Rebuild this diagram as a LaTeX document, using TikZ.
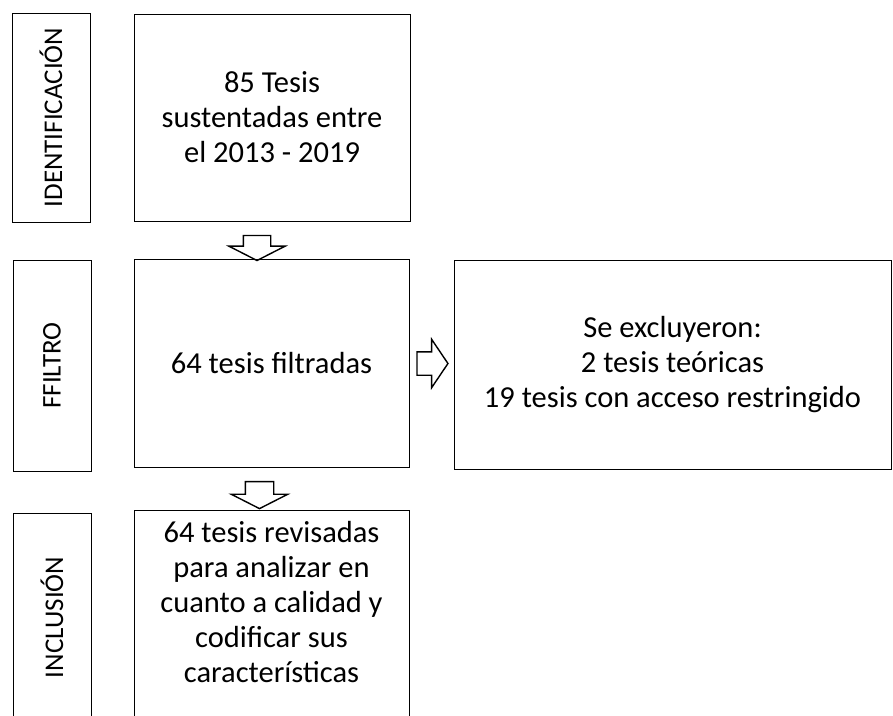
\documentclass[tikz,border=0pt]{standalone}
\usepackage{fontspec}
\setmainfont{Carlito}
\usetikzlibrary{shapes.arrows}

\begin{document}
\begin{tikzpicture}[
    x=1pt, y=1pt, % 1 px = 1 pt
    font=\fontsize{30.5}{35}\selectfont,
    etiqueta/.style={draw, line width=1pt, rotate=90, inner sep=0pt,
        minimum height=78pt, font=\fontsize{27}{33}\selectfont},
    caja/.style={draw, line width=1pt, align=center, inner sep=0pt},
    flecha/.style={draw, single arrow, line width=1.4pt, inner sep=0pt,
        single arrow head indent=0pt}
    ]
    % --- area de dibujo ---
    \useasboundingbox (0,0) rectangle (893,-715);
    \clip (0,0) rectangle (893,-715);

    % 1. etiquetas de las fases
    \node[etiqueta, minimum width=209pt] (ident) at (51,-117.5) {IDENTIFICACIÓN};
    \node[etiqueta, minimum width=211pt] (ffil) at (52,-365.5) {FFILTRO};
    \node[etiqueta, minimum width=209pt] (inclu) at (52,-617.5) {INCLUSIÓN};

    % 2. cajas principales
    \node[caja, minimum width=276pt, minimum height=207pt] (tesis) at (272,-117.5)
        {85 Tesis\\sustentadas entre\\el 2013 - 2019};
    \node[caja, minimum width=275pt, minimum height=208pt] (filtradas) at (271.5,-363)
        {64 tesis filtradas};
    \node[caja, minimum width=437pt, minimum height=209pt] (excluidas) at (672.5,-364.5)
        {Se excluyeron:\\2 tesis teóricas\\19 tesis con acceso restringido};
    \node[caja, minimum width=275pt, minimum height=208pt] (revisadas) at (271.5,-614) {};
    \node[align=center, inner sep=0pt] (revtexto) at (271.5,-602)
        {64 tesis revisadas\\para analizar en\\cuanto a calidad y\\codificar sus\\características};

    % 3. flechas de bloque
    \node[flecha, shape border rotate=270, inner xsep=13pt, minimum height=25pt,
        single arrow head extend=14.5pt, single arrow tip angle=126] (f1) at (257,-244.5) {};
    \node[flecha, shape border rotate=270, inner xsep=13.5pt, minimum height=27pt,
        single arrow head extend=14pt, single arrow tip angle=126] (f2) at (259.5,-491.5) {};
    \node[flecha, inner ysep=11pt, minimum height=31pt,
        single arrow head extend=12.5pt, single arrow tip angle=112] (f3) at (428.5,-363.5) {};

\end{tikzpicture}
\end{document}
